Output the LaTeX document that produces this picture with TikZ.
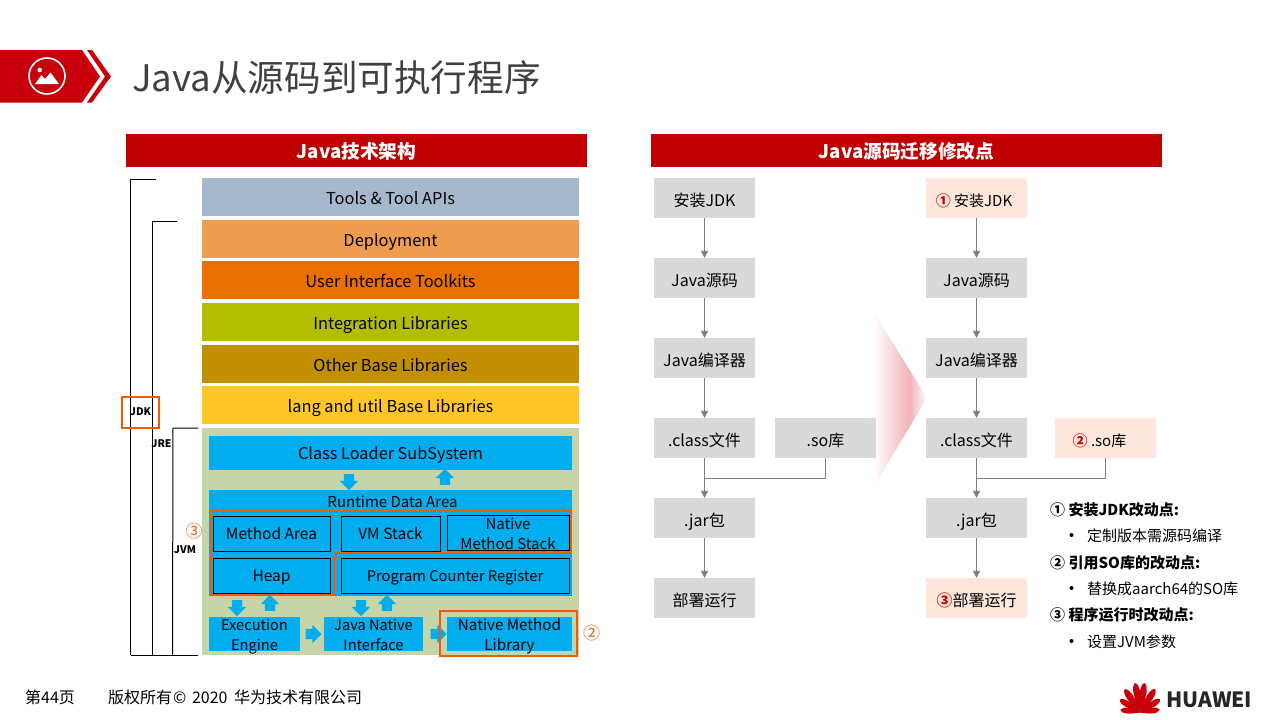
\documentclass[tikz,border=0pt]{standalone}
\usepackage{fontspec}
\setmainfont{Noto Sans CJK SC}
\usetikzlibrary{shapes.arrows,calc,arrows.meta}
\definecolor{hwred}{HTML}{C00000}
\definecolor{logored}{HTML}{C7000B}
\definecolor{titlegray}{HTML}{404040}
\definecolor{barblue}{HTML}{A5B8CD}
\definecolor{barsand}{HTML}{EE9C50}
\definecolor{barorange}{HTML}{E96F00}
\definecolor{barolive}{HTML}{B4BE00}
\definecolor{barochre}{HTML}{C28F00}
\definecolor{baryellow}{HTML}{FFC726}
\definecolor{jvmgreen}{HTML}{C6D5A9}
\definecolor{jvmblue}{HTML}{00AEEF}
\definecolor{markorange}{HTML}{F05A0A}
\definecolor{stepgray}{HTML}{D9D9D9}
\definecolor{steppeach}{HTML}{FDE7DC}
\definecolor{flowgray}{HTML}{7F7F7F}
\definecolor{fadered}{HTML}{F0B2B8}
\pgfdeclarehorizontalshading{fadepink}{100bp}{color(0bp)=(white); color(25bp)=(white); color(59bp)=(fadered); color(75bp)=(white); color(100bp)=(white)}
\tikzset{
	headbar/.style={fill=hwred, text=white, font=\bfseries\fontsize{18.7}{22}\selectfont, minimum height=33pt, inner sep=0pt, text height=18pt, text depth=3pt},
	stackbar/.style={font=\fontsize{16.4}{19}\selectfont, minimum width=377pt, minimum height=38pt, inner sep=0pt, text height=17.6pt, text depth=3.5pt},
	jvmbox/.style={fill=jvmblue, font=\fontsize{14.6}{20}\selectfont, inner sep=0pt},
	memcell/.style={jvmbox, font=\fontsize{15.5}{20}\selectfont, draw=black, line width=1pt, minimum height=35pt},
	oneline/.style={text height=15pt, text depth=3pt},
	stepbox/.style={fill=stepgray, font=\fontsize{16}{19}\selectfont, minimum width=101pt, minimum height=40pt, inner sep=0pt, text height=19pt, text depth=2pt},
	changebox/.style={stepbox, fill=steppeach},
	flow/.style={draw=flowgray, line width=1pt, -{Triangle[width=7pt,length=7pt]}},
	flowline/.style={draw=flowgray, line width=1pt},
	blockarrow/.style={single arrow, fill=jvmblue, inner xsep=0pt, inner ysep=5pt, minimum width=18pt, minimum height=16pt, single arrow head extend=4pt, single arrow head indent=0pt},
	bracket/.style={draw=black, line width=1pt},
	bracketlabel/.style={font=\bfseries\fontsize{10.5}{12}\selectfont, inner sep=0pt},
	markbox/.style={draw=markorange, line width=2pt},
	marknum/.style={text=markorange, font=\fontsize{17}{20}\selectfont, inner sep=0pt},
	notehead/.style={anchor=west, font=\bfseries\fontsize{15}{17}\selectfont, inner sep=0pt},
	notetext/.style={anchor=west, font=\fontsize{15}{17}\selectfont, inner sep=0pt},
	footnote/.style={anchor=west, inner sep=0pt, font=\fontsize{16}{19}\selectfont}
}
\newcommand{\rednum}[1]{\textcolor{red!80!black}{\bfseries #1}}
\newcommand{\twoline}[2]{\raisebox{-6.4pt}[0pt][0pt]{\begin{tabular}{@{}c@{}}#1\\#2\end{tabular}}}
\begin{document}
\begin{tikzpicture}[x=1pt, y=-1pt, line join=miter, >=stealth]
	\useasboundingbox (0,0) rectangle (1280,720);
	% Title band
	\fill[logored] (0,50) -- (82,50) -- (100,76.5) -- (82,102.5) -- (0,102.5) -- cycle;
	\fill[logored] (87,50) -- (92,50) -- (111,76.5) -- (92,102.5) -- (87,102.5) -- (105,76.5) -- cycle;
	\draw[white, line width=1.6pt] (47,76) circle (18);
	\fill[white] (39.7,70) circle (2.3);
	\fill[white] (35,84) -- (41.5,75) -- (45,79) -- (50.5,72.5) -- (59,84) -- cycle;
	\node[anchor=west, inner sep=0pt, text=titlegray, font=\fontsize{36.6}{44}\selectfont] (title) at (132,78) {Java从源码到可执行程序};
	% Section heads
	\node[headbar, minimum width=461pt] (headL) at (356.5,150.5) {Java技术架构};
	\node[headbar, minimum width=511pt] (headR) at (906.5,150.5) {Java源码迁移修改点};
	% Library stack
	\node[stackbar, fill=barblue] (tools) at (390.5,197) {Tools \& Tool APIs};
	\node[stackbar, fill=barsand] (deploy) at (390.5,239) {Deployment};
	\node[stackbar, fill=barorange] (uikit) at (390.5,280) {User Interface Toolkits};
	\node[stackbar, fill=barolive] (integ) at (390.5,322) {Integration Libraries};
	\node[stackbar, fill=barochre] (other) at (390.5,364) {Other Base Libraries};
	\node[stackbar, fill=baryellow] (lang) at (390.5,405) {lang and util Base Libraries};
	% JVM block
	\fill[jvmgreen] (202,428) rectangle (579,655);
	\node[jvmbox, oneline, font=\fontsize{16.3}{20}\selectfont, minimum width=363pt, minimum height=34pt] (loader) at (390.5,453) {Class Loader SubSystem};
	\fill[jvmblue] (209,490) rectangle (572,596);
	\node[inner sep=0pt, font=\fontsize{15}{17}\selectfont] (runtime) at (392.5,502) {Runtime Data Area};
	\node[memcell, oneline, minimum width=117pt] (method) at (271.5,533.5) {Method Area};
	\node[memcell, oneline, minimum width=99pt] (vmstack) at (390.5,533.5) {VM Stack};
	\node[memcell, font=\fontsize{15}{20}\selectfont, minimum width=122pt] (native) at (508,532.5) {\twoline{Native}{Method Stack}};
	\node[memcell, oneline, minimum width=117pt] (heap) at (271.5,575.5) {Heap};
	\node[memcell, oneline, font=\fontsize{14.7}{20}\selectfont, minimum width=228pt] (pcr) at (455,575.5) {Program Counter Register};
	\node[jvmbox, minimum width=91pt, minimum height=34pt] (engine) at (254.5,634) {\twoline{Execution}{Engine}};
	\node[jvmbox, minimum width=99pt, minimum height=34pt] (jni) at (373.5,634) {\twoline{Java Native}{Interface}};
	\node[jvmbox, font=\fontsize{15.2}{20}\selectfont, minimum width=125pt, minimum height=34pt] (library) at (509.5,634) {\twoline{Native Method}{Library}};
	% Block arrows
	\foreach \name/\cx/\cy/\ang in {a1/349/479.5/-90, a2/445/479.5/90, a3/237/605.5/-90, a4/270/605.5/90, a5/361/605.5/-90, a6/387/605.5/90, a7/311/634/0, a8/436/634/0}
	\node[blockarrow, rotate=\ang] (\name) at (\cx,\cy) {};
	% Orange marks
	\draw[markbox] (210.5,511) -- (570.5,511) -- (570.5,553) -- (334.5,553) -- (334.5,594.5) -- (210.5,594.5) -- cycle;
	\node[markbox, minimum width=137pt, minimum height=45pt] (libmark) at (508.5,633.5) {};
	\node[marknum] (num3) at (194,531) {③};
	\node[marknum] (num2) at (591.5,633) {②};
	% JDK, JRE and JVM brackets
	\draw[bracket] (156,179) -- (130.5,179) -- (130.5,655);
	\draw[bracket] (177,221) -- (152,221) -- (152,655);
	\draw[bracket] (198,428) -- (173,428) -- (172.5,655);
	\draw[bracket] (130.5,655) -- (198,655);
	\node[bracketlabel] (jdk) at (140.5,412) {JDK};
	\node[bracketlabel] (jre) at (161.5,444) {JRE};
	\node[bracketlabel] (jvm) at (185,550) {JVM};
	\node[markbox, minimum width=37pt, minimum height=31pt] (jdkmark) at (140.5,412.5) {};
	% Red arrow between the two flows
	\shade[shading=fadepink] (873,311) -- (927,398) -- (873,488) -- cycle;
	% Flow before migration
	\node[stepbox] (jdkA) at (704.5,198) {安装JDK};
	\node[stepbox] (srcA) at (704.5,278) {Java源码};
	\node[stepbox] (javacA) at (704.5,358) {Java编译器};
	\node[stepbox] (classA) at (704.5,438) {.class文件};
	\node[stepbox] (soA) at (825.5,438) {.so库};
	\node[stepbox] (jarA) at (704.5,518) {.jar包};
	\node[stepbox] (runA) at (704.5,598) {部署运行};
	% Flow after migration
	\node[changebox, font=\fontsize{15}{19}\selectfont] (jdkB) at (976.5,198) {\hspace*{-5pt}\rednum{①} 安装JDK};
	\node[stepbox] (srcB) at (976.5,278) {Java源码};
	\node[stepbox] (javacB) at (976.5,358) {Java编译器};
	\node[stepbox] (classB) at (976.5,438) {.class文件};
	\node[changebox, font=\fontsize{15}{19}\selectfont] (soB) at (1105.5,438) {\hspace*{-12pt}\rednum{②} .so库};
	\node[stepbox] (jarB) at (976.5,518) {.jar包};
	\node[changebox] (runB) at (976.5,598) {\rednum{③}部署运行};
	\foreach \t in {A,B}{
		\draw[flow] (jdk\t) -- (src\t);
		\draw[flow] (src\t) -- (javac\t);
		\draw[flow] (javac\t) -- (class\t);
		\draw[flow] (class\t) -- (jar\t);
		\draw[flow] (jar\t) -- (run\t);
		\draw[flowline] (so\t.south) |- ($(class\t.south)!0.5!(jar\t.north)$);
	}
	% Notes
	\node[notehead] (note1) at (1050,510) {① 安装JDK改动点:};
	\node[notetext] (item1) at (1087,535.5) {定制版本需源码编译};
	\node[notehead] (note2) at (1050,562.5) {② 引用SO库的改动点:};
	\node[notetext] (item2) at (1087,588.5) {替换成aarch64的SO库};
	\node[notehead] (note3) at (1050,615) {③ 程序运行时改动点:};
	\node[notetext] (item3) at (1087,641.5) {设置JVM参数};
	\foreach \cy in {535,588,641}
	\fill[black] (1071.5,\cy) circle (2);
	% Footer
	\node[footnote] (page) at (25,697) {第44页};
	\node[footnote] (copy) at (108,697) {版权所有\hspace{1pt}©\hspace{2pt} 2020\hspace{3pt} 华为技术有限公司};
	% Logo
	\foreach \ang/\len/\wid in {9/30/5.5, 33/28/5.5, 57/24/5, 82/20/4.5, -9/30/5.5, -33/28/5.5, -57/24/5, -82/20/4.5}
	\fill[logored, rotate around={\ang:(1140,712.5)}] (1140,712.5) .. controls (1140-0.6*\wid,712.5-0.4*\len) and (1140-\wid,712.5-0.9*\len) .. (1140-0.2,712.5-\len) .. controls (1140+\wid,712.5-0.9*\len) and (1140+0.6*\wid,712.5-0.4*\len) .. (1140,712.5) -- cycle;
	\node[anchor=west, inner sep=0pt, text=black!85, font=\bfseries\fontsize{21}{24}\selectfont] (brand) at (1166,700) {HUAWEI};
\end{tikzpicture}
\end{document}
